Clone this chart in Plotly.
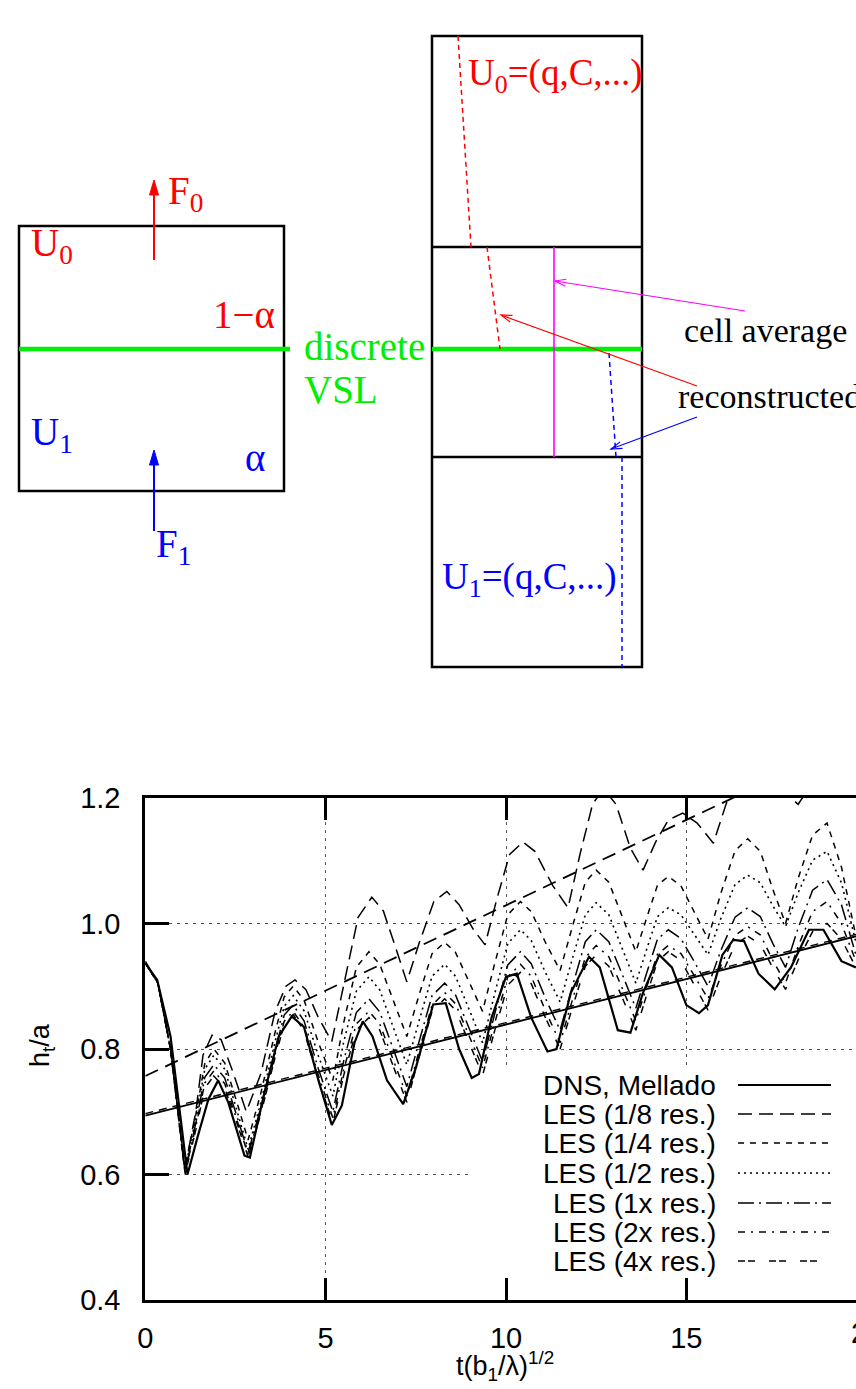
import math
import plotly.graph_objects as go

W, H = 856, 1389

# ---------------- data ----------------
dns_t = [0.0, 0.33, 0.7, 1.17, 1.45, 1.75, 2.02, 2.3, 2.75, 2.9, 3.3, 3.7, 4.06, 4.4, 4.8, 5.17, 5.45, 5.8, 6.03, 6.3,
         6.7, 7.15, 7.5, 7.98, 8.33, 8.7, 9.05, 9.25, 9.6, 10.0, 10.3, 10.7, 11.15, 11.4, 11.8, 12.3, 12.6, 13.1, 13.45,
         13.8, 14.25, 14.6, 15.0, 15.35, 15.6, 16.0, 16.3, 16.6, 17.0, 17.45, 17.9, 18.4, 18.8, 19.3, 19.7]
dns_h = [0.937, 0.91, 0.82, 0.600, 0.66, 0.72, 0.750, 0.715, 0.630, 0.627, 0.73, 0.82, 0.852, 0.835, 0.75, 0.679, 0.71,
         0.81, 0.844, 0.82, 0.75, 0.712, 0.77, 0.871, 0.873, 0.80, 0.754, 0.76, 0.85, 0.915, 0.920, 0.85, 0.796, 0.80,
         0.89, 0.947, 0.93, 0.83, 0.826, 0.89, 0.950, 0.93, 0.87, 0.857, 0.87, 0.95, 0.974, 0.972, 0.92, 0.895, 0.93,
         0.99, 0.99, 0.94, 0.93]

les8_t = [0.0, 0.35, 0.7, 1.1, 1.4, 1.6, 1.85, 2.1, 2.45, 2.8, 3.2, 3.6, 3.9, 4.15, 4.45, 4.8, 5.17, 5.5, 5.9, 6.28,
          6.6, 6.95, 7.25, 7.6, 8.0, 8.36, 8.7, 9.1, 9.42, 9.75, 10.1, 10.47, 10.8, 11.3, 11.72, 12.05, 12.4, 12.7,
          13.05, 13.45, 13.8, 14.15, 14.5, 14.9, 15.3, 15.75, 16.1, 16.5, 16.9, 17.3, 17.7, 18.1, 18.5, 18.9, 19.2, 19.7]
les8_h = [0.94, 0.905, 0.80, 0.61, 0.70, 0.79, 0.822, 0.815, 0.76, 0.70, 0.76, 0.86, 0.90, 0.91, 0.895, 0.85, 0.812,
          0.90, 1.01, 1.042, 1.02, 0.96, 0.907, 0.97, 1.035, 1.051, 1.03, 0.99, 0.966, 1.04, 1.11, 1.13, 1.115, 1.06,
          1.025, 1.11, 1.19, 1.215, 1.19, 1.12, 1.085, 1.13, 1.165, 1.176, 1.16, 1.128, 1.19, 1.245, 1.26, 1.25, 1.21,
          1.19, 1.225, 1.255, 1.26, 1.22]

les_t = [0.0, 0.35, 0.7, 1.1, 1.4, 1.65, 1.9, 2.2, 2.55, 2.85, 3.2, 3.6, 3.85, 4.1, 4.4, 4.8, 5.2, 5.5, 5.85, 6.2,
         6.5, 6.9, 7.25, 7.6, 7.95, 8.3, 8.6, 9.0, 9.35, 9.7, 10.05, 10.4, 10.7, 11.1, 11.5, 11.85, 12.2, 12.5, 12.85,
         13.25, 13.6, 13.9, 14.2, 14.5, 14.85, 15.25, 15.6, 15.95, 16.35, 16.7, 17.05, 17.4, 17.75, 18.1, 18.5, 18.9,
         19.3, 19.7]
les4_h = [0.937, 0.905, 0.80, 0.61, 0.695, 0.777, 0.80, 0.778, 0.713, 0.655, 0.729, 0.827, 0.883, 0.90, 0.878, 0.81,
          0.75, 0.842, 0.930, 0.955, 0.935, 0.874, 0.82, 0.888, 0.952, 0.97, 0.954, 0.904, 0.86, 0.939, 1.014, 1.035,
          1.019, 0.969, 0.925, 0.997, 1.066, 1.085, 1.066, 1.007, 0.955, 1.009, 1.061, 1.075, 1.06, 1.015, 0.975,
          1.047, 1.116, 1.135, 1.115, 1.054, 1.0, 1.072, 1.141, 1.16, 1.09, 0.98]
les2_h = [0.937, 0.905, 0.80, 0.607, 0.689, 0.768, 0.79, 0.768, 0.70, 0.64, 0.714, 0.812, 0.868, 0.885, 0.861, 0.789,
          0.725, 0.811, 0.892, 0.915, 0.894, 0.831, 0.775, 0.847, 0.916, 0.935, 0.916, 0.86, 0.81, 0.891, 0.968, 0.99,
          0.973, 0.921, 0.875, 0.946, 1.014, 1.033, 1.014, 0.956, 0.905, 0.959, 1.011, 1.025, 1.014, 0.98, 0.95,
          1.007, 1.062, 1.077, 1.065, 1.028, 0.995, 1.049, 1.101, 1.115, 1.065, 0.97]
les1x_h = [0.937, 0.905, 0.80, 0.605, 0.682, 0.755, 0.775, 0.754, 0.691, 0.635, 0.706, 0.80, 0.854, 0.87, 0.845, 0.768,
           0.70, 0.781, 0.858, 0.88, 0.859, 0.796, 0.74, 0.814, 0.885, 0.905, 0.886, 0.83, 0.78, 0.859, 0.934, 0.955,
           0.936, 0.88, 0.83, 0.902, 0.971, 0.99, 0.971, 0.915, 0.865, 0.921, 0.975, 0.99, 0.976, 0.936, 0.90, 0.956,
           1.01, 1.025, 1.011, 0.968, 0.93, 0.993, 1.053, 1.07, 1.03, 0.95]
les2x_h = [0.937, 0.905, 0.80, 0.603, 0.676, 0.746, 0.765, 0.745, 0.685, 0.632, 0.70, 0.792, 0.844, 0.86, 0.835, 0.758,
           0.69, 0.767, 0.84, 0.86, 0.84, 0.779, 0.725, 0.799, 0.87, 0.89, 0.872, 0.818, 0.77, 0.844, 0.915, 0.935,
           0.916, 0.86, 0.81, 0.88, 0.946, 0.965, 0.947, 0.893, 0.845, 0.899, 0.951, 0.965, 0.952, 0.914, 0.88, 0.932,
           0.981, 0.995, 0.982, 0.941, 0.905, 0.964, 1.019, 1.035, 1.0, 0.94]
les4x_h = [0.937, 0.905, 0.80, 0.60, 0.671, 0.738, 0.757, 0.738, 0.68, 0.628, 0.696, 0.787, 0.839, 0.855, 0.829, 0.751,
           0.682, 0.758, 0.83, 0.85, 0.83, 0.769, 0.715, 0.789, 0.86, 0.88, 0.862, 0.807, 0.758, 0.832, 0.902, 0.922,
           0.904, 0.849, 0.80, 0.868, 0.932, 0.95, 0.932, 0.878, 0.83, 0.886, 0.94, 0.955, 0.941, 0.899, 0.862, 0.915,
           0.966, 0.98, 0.967, 0.929, 0.895, 0.942, 0.987, 1.0, 0.975, 0.93]

fit_t = [0.0, 20.0]
fit_dns = [0.694, 0.984]
fit_les8 = [0.757, 1.301]
fit_les4x = [0.697, 0.987]

legend_labels = ["DNS, Mellado", "LES (1/8 res.)", "LES (1/4 res.)", "LES (1/2 res.)",
                 "LES (1x res.)", "LES (2x res.)", "LES (4x res.)"]
x_ticks = [0, 5, 10, 15]
y_ticks = [0.4, 0.6, 0.8, 1.0, 1.2]

# ---------------- styles ----------------
SANS = "Liberation Sans, Arial, sans-serif"
SERIF = "Liberation Serif, Times New Roman, serif"
RED, BLUE, GREEN, MAG = "#ff0000", "#0000ff", "#00ee00", "#ff00ff"
dashes = ["solid", "14px,7px", "6px,6px", "2px,4px", "16px,5px,2px,5px", "7px,6px,2px,6px", "7px,3px,7px,14px"]
widths = [2.2, 1.5, 1.5, 1.6, 1.5, 1.5, 1.5]


def px(x):
    return x / W


def py(y):
    return 1 - y / H


# plot geometry in pixels
X0PX, PXU = 145.3, 36.07
YTOP, YBOT = 798, 1300
xmax = (W - X0PX) / PXU

fig = go.Figure()

series = [(dns_t, dns_h), (les8_t, les8_h), (les_t, les4_h), (les_t, les2_h),
          (les_t, les1x_h), (les_t, les2x_h), (les_t, les4x_h)]
for (t, h), name, d, w in zip(series, legend_labels, dashes, widths):
    fig.add_trace(go.Scatter(x=t, y=h, mode="lines", name=name, showlegend=False,
                             line=dict(color="black", width=w, dash=d)))

fig.add_trace(go.Scatter(x=fit_t, y=fit_dns, mode="lines", showlegend=False,
                         line=dict(color="black", width=1.8)))
fig.add_trace(go.Scatter(x=fit_t, y=fit_les4x, mode="lines", showlegend=False,
                         line=dict(color="black", width=1.4, dash="8px,6px")))
fig.add_trace(go.Scatter(x=fit_t, y=fit_les8, mode="lines", showlegend=False,
                         line=dict(color="black", width=1.8, dash="14px,8px")))

shapes = []
ann = []

# opaque key box (covers grid, under curves)
shapes.append(dict(type="rect", xref="x", yref="y", x0=(470 - X0PX) / PXU, x1=20,
                   y0=0.437, y1=0.770, fillcolor="white", line=dict(width=0), layer="between"))

# key entries
rows = [1085, 1114, 1143, 1173, 1203, 1232, 1261]
for lab, r, d, w in zip(legend_labels, rows, dashes, widths):
    ann.append(dict(xref="paper", yref="paper", x=px(718), y=py(r), text=lab, showarrow=False,
                    xanchor="right", yanchor="middle", font=dict(family=SANS, size=28, color="black")))
    shapes.append(dict(type="line", xref="paper", yref="paper", x0=px(738), x1=px(831),
                       y0=py(r), y1=py(r), line=dict(color="black", width=min(w, 1.8), dash=d)))

# axis titles and the clipped "20" label
ann.append(dict(xref="paper", yref="paper", x=px(505), y=py(1366), text="t(b<sub>1</sub>/λ)<sup>1/2</sup>",
                showarrow=False, xanchor="center", yanchor="middle",
                font=dict(family=SANS, size=27, color="black")))
ann.append(dict(xref="paper", yref="paper", x=px(42), y=py(1045), text="h<sub>t</sub>/a", textangle=-90,
                showarrow=False, xanchor="center", yanchor="middle",
                font=dict(family=SANS, size=27, color="black")))
ann.append(dict(xref="paper", yref="paper", x=px(X0PX + 20 * PXU), y=py(1333), text="20",
                showarrow=False, xanchor="center", yanchor="middle",
                font=dict(family=SANS, size=29, color="black")))


# ---------------- schematic (top) ----------------
def line(x0, y0, x1, y1, color="black", width=2.5, dash="solid"):
    shapes.append(dict(type="line", xref="paper", yref="paper", x0=px(x0), y0=py(y0), x1=px(x1), y1=py(y1),
                       line=dict(color=color, width=width, dash=dash)))


def rect(x0, y0, x1, y1):
    shapes.append(dict(type="rect", xref="paper", yref="paper", x0=px(x0), y0=py(y0), x1=px(x1), y1=py(y1),
                       line=dict(color="black", width=2.5)))


def text(x, y, s, color, size=39, family=SERIF, anchor="left"):
    ann.append(dict(xref="paper", yref="paper", x=px(x), y=py(y), text=s, showarrow=False,
                    xanchor=anchor, yanchor="middle", font=dict(family=family, size=size, color=color)))


def arrow(hx, hy, tx, ty, color, width, filled, length, half):
    dx, dy = hx - tx, hy - ty
    n = math.hypot(dx, dy)
    ux, uy = dx / n, dy / n
    bx, by = hx - ux * length, hy - uy * length
    ax_, ay_ = bx - uy * half, by + ux * half
    cx_, cy_ = bx + uy * half, by - ux * half
    if filled:
        line(tx, ty, bx + ux * 2, by + uy * 2, color, width)
        path = f"M{px(hx)},{py(hy)} L{px(ax_)},{py(ay_)} L{px(cx_)},{py(cy_)} Z"
        shapes.append(dict(type="path", xref="paper", yref="paper", path=path,
                           fillcolor=color, line=dict(color=color, width=1)))
    else:
        line(tx, ty, hx, hy, color, width)
        path = f"M{px(ax_)},{py(ay_)} L{px(hx)},{py(hy)} L{px(cx_)},{py(cy_)}"
        shapes.append(dict(type="path", xref="paper", yref="paper", path=path,
                           line=dict(color=color, width=width)))


# left cell
rect(19, 226, 284, 491)
line(19, 349, 290, 349, GREEN, 4.5)
arrow(154, 180, 154, 260, RED, 2, True, 15, 4.5)
arrow(154, 450, 154, 531, BLUE, 2, True, 15, 4.5)
text(29, 246, "U<sub>0</sub>", RED)
text(166, 194, "F<sub>0</sub>", RED)
text(211, 314, "1−α", RED)
text(302, 347, "discrete", GREEN)
text(302, 389, "VSL", GREEN)
text(29, 434, "U<sub>1</sub>", BLUE)
text(243, 457, "α", BLUE)
text(154, 546, "F<sub>1</sub>", BLUE)

# right column of cells
rect(432, 36, 642, 667)
line(432, 247, 642, 247)
line(432, 457, 642, 457)
line(432, 349, 642, 349, GREEN, 4.5)
line(458, 36, 471, 247, RED, 1.5, "5px,4px")
line(487, 247, 500, 349, RED, 1.5, "5px,4px")
line(609, 353, 616, 457, BLUE, 1.5, "5px,4px")
line(622, 457, 622, 667, BLUE, 1.5, "5px,4px")
line(554, 247, 554, 457, MAG, 1.6)
arrow(555, 281, 745, 311, MAG, 1.2, False, 11, 3.5)
arrow(501, 315, 697, 386, RED, 1.2, False, 11, 3.5)
arrow(611, 449, 697, 417, BLUE, 1.2, False, 11, 3.5)
text(466, 76, "U<sub>0</sub>=(q,C,...)", RED, size=37)
text(440, 579, "U<sub>1</sub>=(q,C,...)", BLUE, size=37)
text(682, 330, "cell average", "black", size=34)
text(676, 396, "reconstructed", "black", size=34)

axis_font = dict(family=SANS, size=29, color="black")
fig.update_layout(
    width=W, height=H, margin=dict(l=0, r=0, t=0, b=0, pad=0, autoexpand=False),
    paper_bgcolor="white", plot_bgcolor="white", showlegend=False,
    shapes=shapes, annotations=ann,
    xaxis=dict(domain=[X0PX / W, 1.0], range=[0, xmax], tickvals=x_ticks, ticktext=[str(v) for v in x_ticks],
               ticks="inside", ticklen=22, tickwidth=3, tickcolor="black",
               showline=True, linewidth=3, linecolor="black", mirror="ticks",
               showgrid=True, gridcolor="#555555", gridwidth=1, griddash="3px,5px",
               zeroline=False, tickfont=axis_font, ticklabelstandoff=10, anchor="y", automargin=False),
    yaxis=dict(domain=[(H - YBOT) / H, (H - YTOP) / H], range=[0.4, 1.2], tickvals=y_ticks,
               ticktext=[f"{v:.1f}" for v in y_ticks],
               ticks="inside", ticklen=24, tickwidth=3, tickcolor="black",
               showline=True, linewidth=3, linecolor="black", mirror=False,
               showgrid=True, gridcolor="#555555", gridwidth=1, griddash="3px,5px",
               zeroline=False, tickfont=axis_font, ticklabelstandoff=16, anchor="x", automargin=False),
    yaxis3=dict(overlaying="y", anchor="free", position=1.0, side="right", range=[0.4, 1.2],
                tickvals=y_ticks, ticks="inside", ticklen=14, tickwidth=3, tickcolor="black",
                showline=False, showgrid=False, showticklabels=False, zeroline=False, automargin=False),
)

post = ("var s=document.createElement('style');"
        "s.textContent='html,body{margin:0!important;padding:0!important;overflow:hidden!important;}';"
        "document.head.appendChild(s);"
        "var g=document.getElementById('{plot_id}');"
        "g.style.position='absolute';g.style.left='0px';g.style.top='0px';")

fig.write_html("out.html", config={"displayModeBar": False}, post_script=post)
